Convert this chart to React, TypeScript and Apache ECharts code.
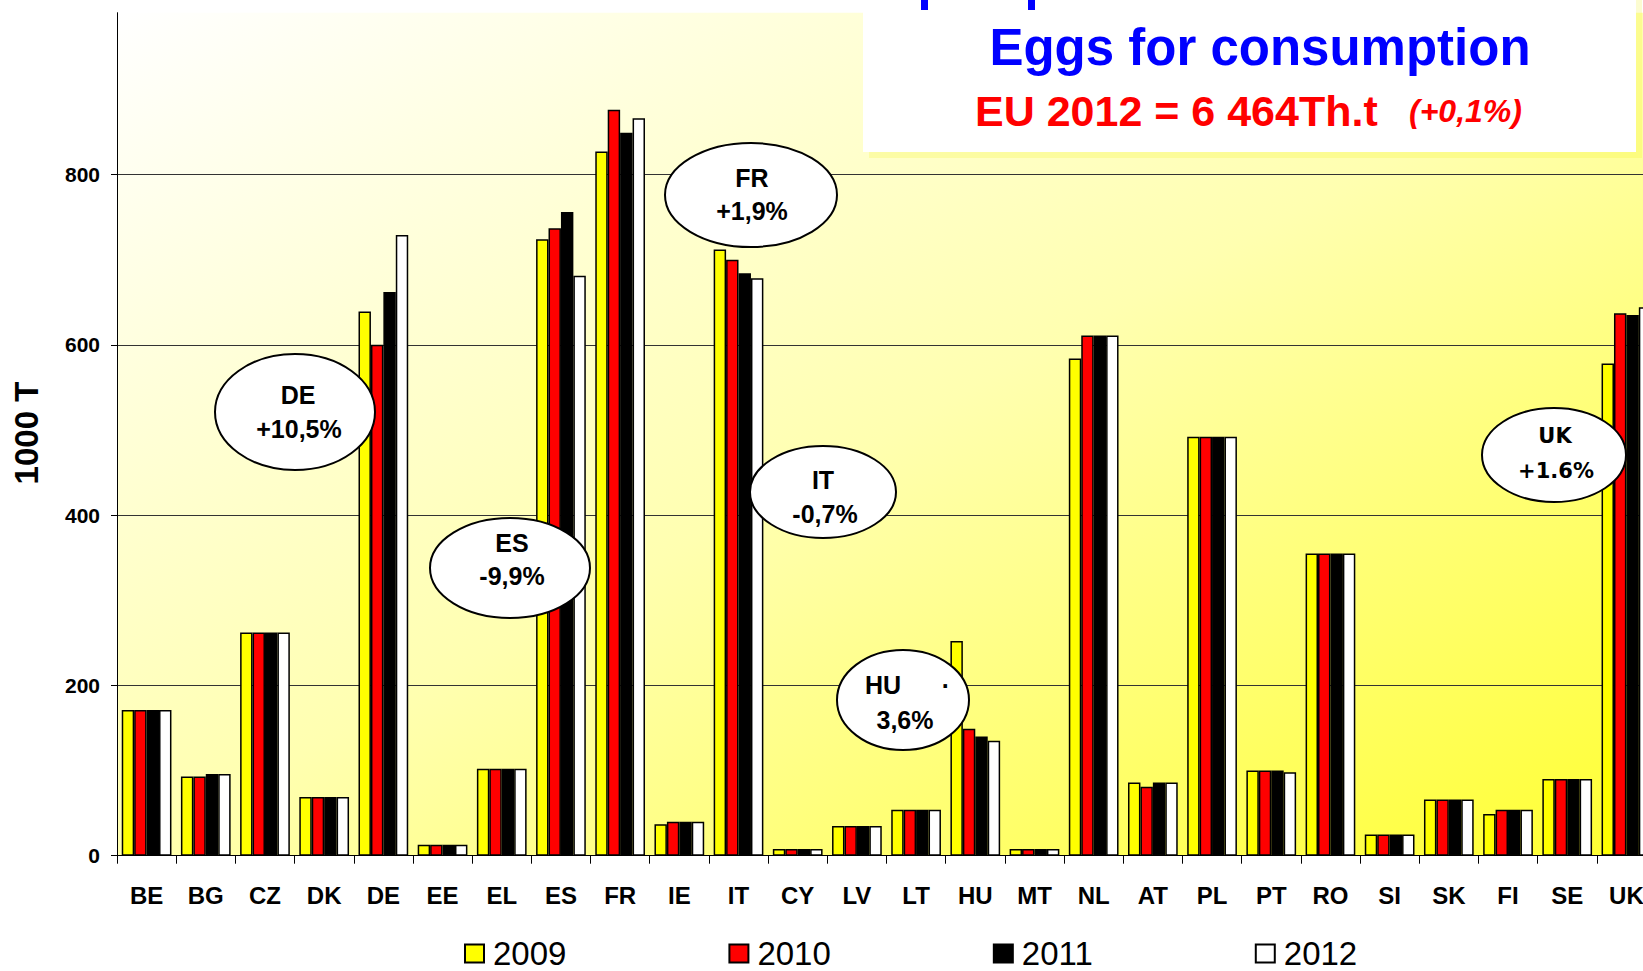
import React, { useEffect, useRef } from "react";
import * as echarts from "echarts";

const categories = ["BE", "BG", "CZ", "DK", "DE", "EE", "EL", "ES", "FR", "IE", "IT", "CY", "LV", "LT", "HU", "MT", "NL", "AT", "PL", "PT", "RO", "SI", "SK", "FI", "SE", "UK"];
const years = ["2009", "2010", "2011", "2012"];
const v2009 = [171, 93, 262, 69, 639, 13, 102, 724, 827, 37, 712, 8, 35, 54, 252, 8, 584, 86, 492, 100, 355, 25, 66, 49, 90, 578];
const v2010 = [171, 93, 262, 69, 600, 13, 102, 737, 876, 40, 700, 8, 35, 54, 149, 8, 611, 81, 492, 100, 355, 25, 66, 54, 90, 637];
const v2011 = [171, 96, 262, 69, 662, 13, 102, 756, 849, 40, 684, 8, 35, 54, 140, 8, 611, 86, 492, 100, 355, 25, 66, 54, 90, 635];
const v2012 = [171, 96, 262, 69, 729, 13, 102, 681, 866, 40, 678, 8, 35, 54, 135, 8, 611, 86, 492, 98, 355, 25, 66, 54, 90, 644];
const barColors = ["#FFFF00", "#FF0000", "#000000", "#FFFFFF"];

const FONT = '"Liberation Sans", Arial, sans-serif';

function txt(text: string, x: number, y: number, size: number, opts: any = {}) {
  return {
    type: "text",
    x,
    y,
    z: 101,
    style: {
      text,
      fill: opts.fill || "#000",
      fontSize: size,
      fontWeight: "bold",
      fontStyle: opts.italic ? "italic" : "normal",
      fontFamily: opts.family || FONT,
      textAlign: opts.align || "center",
      textVerticalAlign: "middle",
      align: opts.align || "center",
      verticalAlign: "middle",
    },
  };
}

function ellipse(cx: number, cy: number, rx: number, ry: number) {
  return {
    type: "ellipse",
    z: 100,
    shape: { cx, cy, rx, ry },
    style: { fill: "#FFFFFF", stroke: "#000000", lineWidth: 2 },
  };
}

export default function App() {
  const ref = useRef<HTMLDivElement>(null);
  useEffect(() => {
    if (!ref.current) return;
    const chart = echarts.init(ref.current, null, { renderer: "svg" });
    const series = [v2009, v2010, v2011, v2012].map((d, i) => ({
      name: years[i],
      type: "bar",
      data: d,
      barGap: "0%",
      barCategoryGap: "16%",
      itemStyle: { color: barColors[i], borderColor: "#000", borderWidth: 1.5 },
    }));
    chart.setOption({
      animation: false,
      backgroundColor: "#FFFFFF",
      textStyle: { fontFamily: FONT },
      grid: {
        left: 117,
        width: 1539,
        top: 12.7,
        bottom: 115.3,
        containLabel: false,
        outerBoundsMode: "none",
        show: true,
        borderWidth: 0,
        backgroundColor: new echarts.graphic.LinearGradient(0, 0, 1, 1, [
          { offset: 0, color: "#FFFFFF" },
          { offset: 0.5, color: "#FFFFB0" },
          { offset: 1, color: "#FFFF30" },
        ]),
      },
      xAxis: {
        type: "category",
        data: categories,
        axisLine: { lineStyle: { color: "#000", width: 1 } },
        axisTick: { show: true, length: 8, lineStyle: { color: "#000" } },
        axisLabel: { interval: 0, fontSize: 24, fontWeight: "bold", color: "#000", margin: 28, fontFamily: FONT, hideOverlap: false },
        splitLine: { show: false },
      },
      yAxis: {
        type: "value",
        min: 0,
        max: 990,
        interval: 200,
        axisLine: { show: true, lineStyle: { color: "#000", width: 1 } },
        axisTick: { show: true, length: 6, lineStyle: { color: "#000" } },
        axisLabel: { fontSize: 21, fontWeight: "bold", color: "#000", margin: 17, showMaxLabel: false, fontFamily: FONT },
        splitLine: { show: true, showMinLine: false, showMaxLine: false, lineStyle: { color: "#333", width: 1 } },
      },
      legend: {
        data: years,
        left: 464,
        top: 937,
        icon: "rect",
        itemWidth: 19,
        itemHeight: 18,
        itemGap: 162,
        padding: 0,
        textStyle: { fontSize: 33, lineHeight: 33, color: "#000", fontFamily: FONT, padding: [0, 0, 0, 4] },
      },
      series,
      graphic: [
        { type: "rect", z: 99, shape: { x: 869, y: 0, width: 773, height: 158 }, style: { fill: "rgba(240,240,0,0.18)" } },
        { type: "rect", z: 100, shape: { x: 863, y: 0, width: 773, height: 152 }, style: { fill: "#FFFFFF" } },
        { type: "rect", z: 101, shape: { x: 921, y: 0, width: 7, height: 10 }, style: { fill: "#0000FF" } },
        { type: "rect", z: 101, shape: { x: 1028, y: 0, width: 7, height: 10 }, style: { fill: "#0000FF" } },
        txt("Eggs for consumption", 1260, 47, 51, { fill: "#0000FF" }),
        txt("EU 2012 = 6 464Th.t", 975, 111, 43, { fill: "#FF0000", align: "left" }),
        txt("(+0,1%)", 1409, 111, 32, { fill: "#FF0000", align: "left", italic: true }),
        {
          type: "text",
          x: 26,
          y: 433,
          rotation: Math.PI / 2,
          z: 101,
          style: {
            text: "1000 T",
            fill: "#000",
            fontSize: 33,
            fontWeight: "bold",
            fontFamily: FONT,
            textAlign: "center",
            textVerticalAlign: "middle",
            align: "center",
            verticalAlign: "middle",
          },
        },
        ellipse(295, 412, 80, 58),
        txt("DE", 298, 395, 25),
        txt("+10,5%", 299, 429, 25),
        ellipse(510, 568, 80, 50),
        txt("ES", 512, 543, 25),
        txt("-9,9%", 512, 576, 25),
        ellipse(751, 195, 86, 52),
        txt("FR", 752, 178, 25),
        txt("+1,9%", 752, 211, 25),
        ellipse(823, 492, 73, 46),
        txt("IT", 823, 480, 25),
        txt("-0,7%", 825, 514, 25),
        ellipse(903, 700, 66, 50),
        txt("HU", 883, 685, 25),
        txt("·", 946, 686, 25),
        txt("3,6%", 905, 720, 25),
        ellipse(1554, 455, 72, 47),
        txt("UK", 1555, 436, 21, { family: '"DejaVu Sans", Verdana, sans-serif' }),
        txt("+1.6%", 1556, 471, 21, { family: '"DejaVu Sans", Verdana, sans-serif' }),
      ],
    });
    return () => chart.dispose();
  }, []);
  return <div ref={ref} style={{ position: "fixed", left: 0, top: 0, width: 1643, height: 971 }} />;
}
